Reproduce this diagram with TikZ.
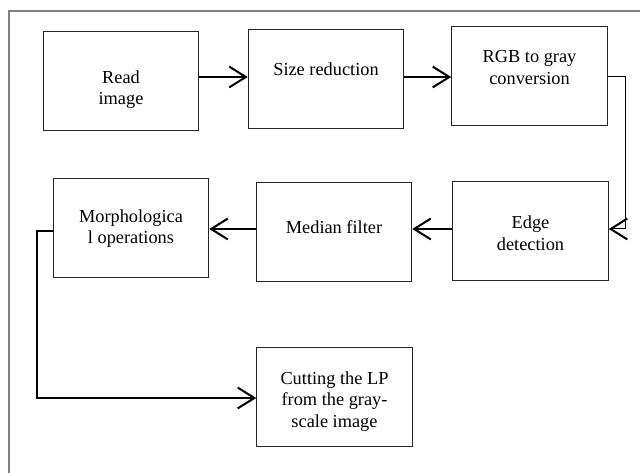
\documentclass[tikz,border=0pt]{standalone}
\usepackage{fontspec}
\setmainfont{Liberation Serif}
\usetikzlibrary{arrows.meta,positioning}

\newcommand{\padtop}[1]{\rule{0pt}{#1}}
\newcommand{\padbot}[1]{\rule[-#1]{0pt}{#1}}

\tikzset{
  block/.style={draw=black!85, line width=0.6pt, minimum width=93.3pt,
    minimum height=59.4pt, inner sep=0pt, align=center,
    font=\fontsize{11}{13}\selectfont},
  flow/.style={line width=1.2pt, -{Straight Barb[length=10pt,width=12.5pt]}},
  thinflow/.style={line width=0.6pt,
    -{Straight Barb[length=10pt,width=12.5pt,line width=1.2pt]}},
  frame/.style={draw=black!50, line width=0.8pt}
}

\begin{document}
\begin{tikzpicture}[x=0.6pt,y=-0.6pt]
\useasboundingbox (0,0) rectangle (640,473);
\draw[frame] (9,473) |- (640,11);
\node[block] (read) at (121,81) {\padtop{17.8pt}Read\\image};
\node[block] (size) at (326,79.5) {Size reduction\padbot{12.5pt}};
\node[block] (gray) at (529.5,76.5) {RGB to gray\\conversion\padbot{10.8pt}};
\node[block] (morph) at (131,228.5) {Morphologica\\l operations};
\node[block] (median) at (334,232.5) {Median filter\padbot{7pt}};
\node[block] (edge) at (530.5,231) {\padtop{10.6pt}Edge\\detection};
\node[block] (cut) at (334.5,397.5) {\padtop{12.2pt}Cutting the LP\\from the gray-\\scale image};
\coordinate (turn) at (625,229);
\coordinate (bend) at (37,398);
\draw[flow] ([yshift=2.4pt]read.east) -- ([yshift=2.4pt]read.east -| size.west);
\draw[flow] ([yshift=1.5pt]size.east) -- ([yshift=1.5pt]size.east -| gray.west);
\draw[thinflow] (gray.east) -| (turn) -- (turn -| edge.east);
\draw[flow] (turn -| edge.west) -- (turn -| median.east);
\draw[flow] (turn -| median.west) -- (turn -| morph.east);
\draw[flow] ([yshift=-1.5pt]morph.west) -| (bend) -- (bend -| cut.west);
\end{tikzpicture}
\end{document}
